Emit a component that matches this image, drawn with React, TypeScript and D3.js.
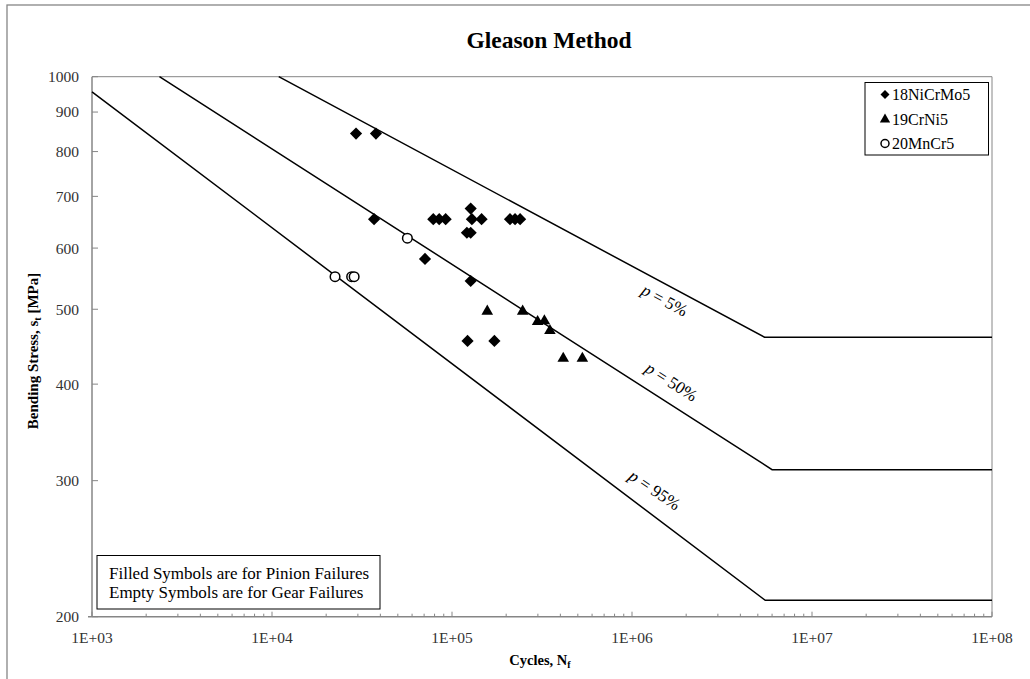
import * as d3 from 'd3';

// S-N design curves (cycles, stress MPa)
const p5Cycles = [1.09e4, 5.45e6, 1e8];
const p5Stress = [1000, 460, 460];
const p50Cycles = [2.37e3, 6.0e6, 1e8];
const p50Stress = [1000, 310, 310];
const p95Cycles = [1e3, 5.5e6, 1e8];
const p95Stress = [956, 210, 210];

const curveNames = ['5%', '50%', '95%'];
// where the curve labels sit (cycles, stress)
const labelCycles = [1.52e6, 1.66e6, 1.34e6];
const labelStress = [514, 403, 292];

// 18NiCrMo5 (pinion failures)
const niCrMoCycles = [2.93e4, 3.78e4, 3.69e4, 7.87e4, 8.49e4, 9.22e4, 1.27e5, 1.29e5, 1.46e5, 1.21e5, 1.27e5, 2.10e5, 2.24e5, 2.39e5, 7.08e4, 1.27e5, 1.22e5, 1.72e5];
const niCrMoStress = [844, 844, 654, 654, 654, 654, 675, 654, 654, 628, 628, 654, 654, 654, 581, 544, 455, 455];

// 19CrNi5 (pinion failures)
const crNiCycles = [1.57e5, 2.47e5, 2.99e5, 3.26e5, 3.50e5, 4.15e5, 5.30e5];
const crNiStress = [497, 497, 482, 483, 469, 432, 432];

// 20MnCr5 (gear failures)
const mnCrCycles = [5.65e4, 2.24e4, 2.77e4, 2.86e4];
const mnCrStress = [618, 551, 551, 551];

const legendNames = ['18NiCrMo5', '19CrNi5', '20MnCr5'];
const noteLines = ['Filled Symbols are for Pinion Failures', 'Empty Symbols are for Gear Failures'];

const xTicks = [1e3, 1e4, 1e5, 1e6, 1e7, 1e8];
const yTicks = [200, 300, 400, 500, 600, 700, 800, 900, 1000];

const W = 1030;
const H = 679;
const plot = { left: 92, right: 992, top: 76.7, bottom: 616.7 };
const FONT = '"Liberation Serif", "Times New Roman", serif';
const AXIS = '#868686';

const x = d3.scaleLog().domain([1e3, 1e8]).range([plot.left, plot.right]);
const y = d3.scaleLog().domain([200, 1000]).range([plot.bottom, plot.top]);

const line = d3.line<[number, number]>()
  .x(d => x(d[0]))
  .y(d => y(d[1]));

const zip = (a: number[], b: number[]) => a.map((v, i) => [v, b[i]] as [number, number]);

const curves = [zip(p5Cycles, p5Stress), zip(p50Cycles, p50Stress), zip(p95Cycles, p95Stress)];

const diamond = d3.symbol(d3.symbolSquare, 74)();
const triangle = d3.symbol(d3.symbolTriangle, 58)();

const minorTicks: number[] = [];
for (let e = 3; e < 8; e++) {
  for (let k = 2; k <= 9; k++) minorTicks.push(k * Math.pow(10, e));
}

const fmtExp = (v: number) => '1E+' + String(Math.round(Math.log10(v))).padStart(2, '0');

export default function App() {
  return (
    <svg
      width={W}
      height={H}
      style={{ position: 'absolute', left: 0, top: 0, display: 'block', background: '#fff' }}
      fontFamily={FONT}
    >
      <rect x={7} y={5} width={W + 20} height={H + 20} fill="#fff" stroke={AXIS} strokeWidth={1.3} />

      <text x={549} y={48} textAnchor="middle" fontSize={23.5} fontWeight="bold" fill="#000">
        Gleason Method
      </text>

      {/* axes */}
      <line x1={plot.left} x2={plot.left} y1={plot.top} y2={plot.bottom} stroke={AXIS} strokeWidth={1.5} />
      <line x1={plot.left - 4} x2={plot.right} y1={plot.bottom} y2={plot.bottom} stroke={AXIS} strokeWidth={1.5} />
      <line x1={plot.right} x2={plot.right} y1={plot.top} y2={plot.bottom} stroke={AXIS} strokeWidth={1} />
      <line x1={plot.left} x2={plot.right} y1={plot.top} y2={plot.top} stroke={AXIS} strokeWidth={1} />

      {yTicks.map(t => (
        <g key={'y' + t}>
          <line x1={plot.left} x2={plot.left + 6} y1={y(t)} y2={y(t)} stroke={AXIS} strokeWidth={1} />
          <text x={79} y={y(t)} dy="0.35em" textAnchor="end" fontSize={15.5} fill="#333">{t}</text>
        </g>
      ))}

      {minorTicks.map(t => (
        <line key={'m' + t} x1={x(t)} x2={x(t)} y1={plot.bottom} y2={plot.bottom - 3} stroke={AXIS} strokeWidth={1} />
      ))}
      {xTicks.map(t => (
        <g key={'x' + t}>
          <line x1={x(t)} x2={x(t)} y1={plot.bottom} y2={plot.bottom - 5} stroke={AXIS} strokeWidth={1} />
          <text x={x(t)} y={643} textAnchor="middle" fontSize={15.5} fill="#333">{fmtExp(t)}</text>
        </g>
      ))}

      <text x={540} y={665} textAnchor="middle" fontSize={14.5} fontWeight="bold">
        Cycles, N<tspan fontSize={10} dy={3}>f</tspan>
      </text>
      <text transform="translate(38,351) rotate(-90)" textAnchor="middle" fontSize={15} fontWeight="bold">
        Bending Stress, s<tspan fontSize={10} dy={3}>t</tspan><tspan dy={-3}> [MPa]</tspan>
      </text>

      {/* design curves */}
      {curves.map((c, i) => (
        <path key={'c' + i} d={line(c) ?? ''} fill="none" stroke="#000" strokeWidth={1.5} />
      ))}
      {curveNames.map((n, i) => {
        const c = curves[i];
        const ang = (Math.atan2(y(c[1][1]) - y(c[0][1]), x(c[1][0]) - x(c[0][0])) * 180) / Math.PI;
        return (
          <text
            key={'l' + i}
            transform={`translate(${x(labelCycles[i])},${y(labelStress[i])}) rotate(${i === 2 ? ang - 3 : ang})`}
            textAnchor="middle"
            dy="0.35em"
            fontSize={17}
          >
            <tspan fontStyle="italic">p</tspan> = {n}
          </text>
        );
      })}

      {/* data */}
      {niCrMoCycles.map((c, i) => (
        <path key={'d' + i} d={diamond ?? ''} transform={`translate(${x(c)},${y(niCrMoStress[i])}) rotate(45)`} fill="#000" />
      ))}
      {crNiCycles.map((c, i) => (
        <path key={'t' + i} d={triangle ?? ''} transform={`translate(${x(c)},${y(crNiStress[i])})`} fill="#000" />
      ))}
      {mnCrCycles.map((c, i) => (
        <circle key={'o' + i} cx={x(c)} cy={y(mnCrStress[i])} r={4.8} fill="#fff" stroke="#000" strokeWidth={1.5} />
      ))}

      {/* legend */}
      <rect x={865} y={82.5} width={123.5} height={72.5} fill="#fff" stroke="#000" strokeWidth={1} />
      {legendNames.map((n, i) => {
        const ly = 94.5 + i * 24.5;
        return (
          <g key={'g' + i}>
            {i === 0 && <path d={d3.symbol(d3.symbolSquare, 40)() ?? ''} transform={`translate(885,${ly}) rotate(45)`} fill="#000" />}
            {i === 1 && <path d={d3.symbol(d3.symbolTriangle, 46)() ?? ''} transform={`translate(885,${ly + 0.5})`} fill="#000" />}
            {i === 2 && <circle cx={885} cy={ly} r={4} fill="#fff" stroke="#000" strokeWidth={1.5} />}
            <text x={892} y={ly} dy="0.35em" fontSize={16}>{n}</text>
          </g>
        );
      })}

      {/* note box */}
      <rect x={97} y={555.5} width={283} height={53.5} fill="#fff" stroke="#000" strokeWidth={1} />
      {noteLines.map((t, i) => (
        <text key={'n' + i} x={109} y={573.5 + i * 19} dy="0.35em" fontSize={17}>{t}</text>
      ))}
    </svg>
  );
}
